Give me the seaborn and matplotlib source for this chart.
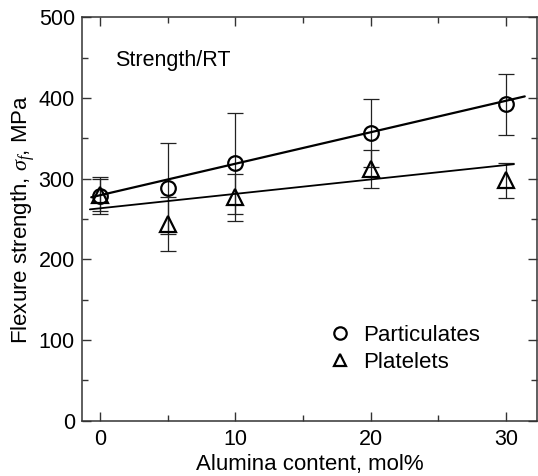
import numpy as np
import pandas as pd
import seaborn as sns
import matplotlib.pyplot as plt
from matplotlib.ticker import MultipleLocator

# Data
alumina = [0, 5, 10, 20, 30]
particulates = [279, 288, 319, 357, 392]
particulates_err = [23, 56, 63, 42, 38]
platelets = [280, 244, 277, 312, 298]
platelets_err = [20, 33, 29, 23, 22]

# fitted trend lines (end points)
part_fit_x = [-0.65, 31.4]
part_fit_y = [277, 402]
plate_fit_x = [-0.75, 30.6]
plate_fit_y = [262, 318]


def main():
    sns.set_style('ticks')
    plt.rcParams['font.family'] = ['Liberation Sans', 'DejaVu Sans']
    plt.rcParams['mathtext.fontset'] = 'custom'
    plt.rcParams['mathtext.rm'] = 'Liberation Sans'
    plt.rcParams['mathtext.it'] = 'Liberation Serif:italic'
    plt.rcParams['text.color'] = 'black'
    plt.rcParams['axes.labelcolor'] = 'black'
    plt.rcParams['xtick.labelcolor'] = 'black'
    plt.rcParams['ytick.labelcolor'] = 'black'

    fig = plt.figure(figsize=(5.38, 4.76), dpi=100)
    ax = fig.add_axes([0.152, 0.116, 0.846, 0.8476])

    df = pd.DataFrame({
        'x': alumina * 2,
        'y': particulates + platelets,
        'err': particulates_err + platelets_err,
        'kind': ['Particulates'] * 5 + ['Platelets'] * 5,
    })

    # error bars
    for kind, grp in df.groupby('kind'):
        ax.errorbar(grp['x'], grp['y'], yerr=grp['err'], fmt='none',
                    ecolor='#222222', elinewidth=0.9, capsize=5.8,
                    capthick=0.9, zorder=2)

    # trend lines
    sns.lineplot(x=part_fit_x, y=part_fit_y, color='black', lw=1.6, ax=ax,
                 zorder=3)
    sns.lineplot(x=plate_fit_x, y=plate_fit_y, color='black', lw=1.3, ax=ax,
                 zorder=3)

    # markers
    markers = {'Particulates': 'o', 'Platelets': '^'}
    sizes = {'Particulates': 10.5, 'Platelets': 11}
    for kind, grp in df.groupby('kind'):
        ax.plot(grp['x'], grp['y'], linestyle='none', marker=markers[kind],
                markersize=sizes[kind], markerfacecolor='none',
                markeredgecolor='black', markeredgewidth=1.6, zorder=4,
                label=kind)

    ax.set_xlim(-1.35, 32.3)
    ax.set_ylim(0, 500)
    ax.xaxis.set_major_locator(MultipleLocator(10))
    ax.xaxis.set_minor_locator(MultipleLocator(5))
    ax.yaxis.set_major_locator(MultipleLocator(100))
    ax.yaxis.set_minor_locator(MultipleLocator(50))
    ax.tick_params(which='both', direction='in', top=True, right=True,
                   labelsize=15.5, width=1, color='#333333',
                   labelcolor='black')
    ax.tick_params(which='major', length=6.5)
    ax.tick_params(which='minor', length=4.5)
    ax.tick_params(axis='x', pad=6)
    ax.tick_params(axis='y', pad=5)
    for s in ax.spines.values():
        s.set_linewidth(1.1)
        s.set_color('#333333')

    ax.set_xlabel('Alumina content, mol%', fontsize=16, labelpad=3)
    ax.set_ylabel(r'Flexure strength, $\sigma_{\mathit{f}}$, MPa',
                  fontsize=16, labelpad=1)

    ax.text(1.1, 447, 'Strength/RT', fontsize=15.5, va='center', ha='left')

    ax.legend(loc='center left', bbox_to_anchor=(0.518, 0.178),
              frameon=False, fontsize=16, handletextpad=0.55,
              labelspacing=0.25, handlelength=1.0, borderpad=0,
              markerscale=0.85)

    fig.savefig('out.png', dpi=100)


if __name__ == "__main__":
    main()
